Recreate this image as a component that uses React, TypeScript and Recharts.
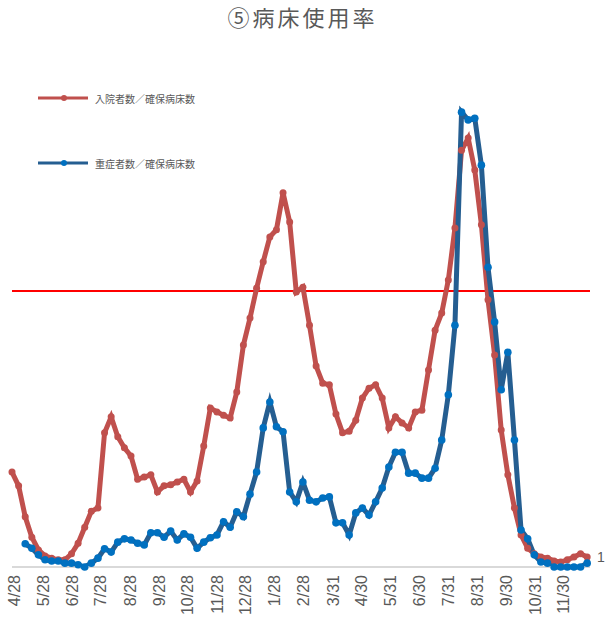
import React from 'react'
import { LineChart, Line, XAxis, YAxis, ReferenceLine } from 'recharts'

// weekly values, % of secured beds (start week of 2020-04-25)
const hospRate = [
  17.2, 14.7, 9.1, 5.4, 3.1, 2.0, 1.6, 1.3, 1.3, 2.4,
  4.3, 7.2, 10.1, 10.7, 24.3, 27.2, 23.6, 21.6, 20.1, 15.9,
  16.3, 16.7, 13.6, 14.7, 14.9, 15.4, 15.9, 13.6, 15.6, 21.9,
  28.8, 28.1, 27.5, 27.0, 31.7, 40.2, 45.1, 50.5, 55.3, 59.8,
  61.1, 67.8, 62.5, 49.8, 50.7, 43.8, 36.4, 33.3, 33.0, 27.7,
  24.3, 24.6, 26.6, 30.6, 32.4, 33.0, 30.6, 25.2, 27.2, 26.1,
  25.2, 28.1, 28.4, 35.7, 42.9, 46.0, 52.0, 61.4, 75.5, 77.7,
  71.9, 62.0, 48.4, 38.4, 24.8, 16.7, 10.7, 5.8, 3.4, 2.4,
  1.8, 1.6, 1.1, 0.9, 1.3, 1.8, 2.4, 1.8,
]

const severeRate: (number | null)[] = [
  null, null, 4.2, 3.4, 2.2, 1.3, 1.1, 1.1, 0.7, 0.7,
  0.4, 0.0, 0.7, 1.6, 3.3, 2.7, 4.5, 5.1, 4.9, 4.3,
  4.0, 6.2, 6.2, 5.4, 6.5, 4.9, 6.0, 5.4, 3.4, 4.5,
  5.3, 5.8, 8.2, 7.2, 10.0, 9.1, 13.2, 17.2, 25.2, 29.9,
  25.4, 24.5, 13.6, 11.8, 15.4, 12.1, 11.8, 12.5, 12.7, 8.0,
  8.0, 5.8, 9.8, 10.7, 9.4, 11.8, 14.3, 18.1, 20.8, 20.8,
  17.0, 17.0, 16.1, 16.1, 17.9, 23.0, 31.2, 43.8, 82.4, 81.0,
  81.3, 72.8, 54.3, 44.4, 32.1, 38.9, 23.0, 6.7, 5.1, 2.2,
  0.9, 0.7, 0.0, 0.0, 0.0, 0.0, 0.0, 0.7,
]

const tickDates: [number, number, number][] = [
  [2020, 4, 28], [2020, 5, 28], [2020, 6, 28], [2020, 7, 28], [2020, 8, 28],
  [2020, 9, 28], [2020, 10, 28], [2020, 11, 28], [2020, 12, 28], [2021, 1, 28],
  [2021, 2, 28], [2021, 3, 31], [2021, 4, 30], [2021, 5, 31], [2021, 6, 30],
  [2021, 7, 31], [2021, 8, 31], [2021, 9, 30], [2021, 10, 31], [2021, 11, 30],
]

const THRESHOLD = 50

const START = Date.UTC(2020, 3, 25)
const dayOf = (y: number, m: number, d: number) => (Date.UTC(y, m - 1, d) - START) / 86400000

const ticks = tickDates.map(([y, m, d]) => dayOf(y, m, d))
const tickLabel: Record<number, string> = {}
tickDates.forEach(([y, m, d]) => {
  tickLabel[dayOf(y, m, d)] = `${m}/${d}`
})

const data = hospRate.map((v, i) => ({
  day: i * 7,
  hosp: v,
  severe: severeRate[i],
}))

const RED = '#C0504D'
const BLUE_LINE = '#255E91'
const BLUE_DOT = '#0070C0'
const GRAY = '#595959'

const DateTick = ({ x, payload }: any) => (
  <text
    x={x}
    y={575}
    transform={`rotate(-90, ${x}, 575)`}
    textAnchor="end"
    dy="0.35em"
    fill={GRAY}
    fontSize={16}
    fontFamily="Liberation Sans, Arial, sans-serif"
  >
    {tickLabel[payload.value]}
  </text>
)

const LegendItem = ({ top, line, dot, label }: { top: number; line: string; dot: string; label: string }) => (
  <div style={{ position: 'absolute', left: 38, top: top - 8, height: 16, display: 'flex', alignItems: 'center' }}>
    <svg width={52} height={16}>
      <line x1={0} y1={8} x2={50} y2={8} stroke={line} strokeWidth={3} />
      <circle cx={26} cy={8} r={3} fill={dot} />
    </svg>
    <span style={{ marginLeft: 5, fontSize: 10, color: GRAY, fontFamily: 'Noto Sans CJK JP, sans-serif' }}>
      {label}
    </span>
  </div>
)

export default function App() {
  return (
    <div style={{ position: 'absolute', left: 0, top: 0, width: 605, height: 643, background: '#fff', overflow: 'hidden' }}>
      <div
        style={{
          position: 'absolute',
          left: 0,
          width: 605,
          top: 2,
          height: 28,
          lineHeight: '28px',
          textAlign: 'center',
          fontSize: 22,
          letterSpacing: 3,
          color: GRAY,
          fontFamily: 'Noto Sans CJK JP, sans-serif',
        }}
      >
        ⑤病床使用率
      </div>

      <LineChart width={605} height={643} data={data} margin={{ top: 15, right: 15, left: 12, bottom: 0 }}>
        <XAxis
          type="number"
          dataKey="day"
          domain={[0, 612]}
          ticks={ticks}
          interval={0}
          tick={<DateTick />}
          tickLine={false}
          axisLine={{ stroke: '#D9D9D9', strokeWidth: 2 }}
          height={76}
        />
        <YAxis hide domain={[0, 100]} />
        <ReferenceLine y={THRESHOLD} stroke="#FF0000" strokeWidth={2} />
        <Line
          type="linear"
          dataKey="hosp"
          stroke={RED}
          strokeWidth={5}
          dot={{ r: 3.5, fill: RED, stroke: 'none' }}
          isAnimationActive={false}
        />
        <Line
          type="linear"
          dataKey="severe"
          stroke={BLUE_LINE}
          strokeWidth={5}
          dot={{ r: 3.8, fill: BLUE_DOT, stroke: 'none' }}
          isAnimationActive={false}
        />
      </LineChart>

      <LegendItem top={98} line={RED} dot={RED} label="入院者数／確保病床数" />
      <LegendItem top={163} line={BLUE_LINE} dot={BLUE_DOT} label="重症者数／確保病床数" />

      <div style={{ position: 'absolute', left: 597, top: 549, fontSize: 14, color: GRAY, fontFamily: 'Liberation Sans, sans-serif' }}>
        1
      </div>
    </div>
  )
}
